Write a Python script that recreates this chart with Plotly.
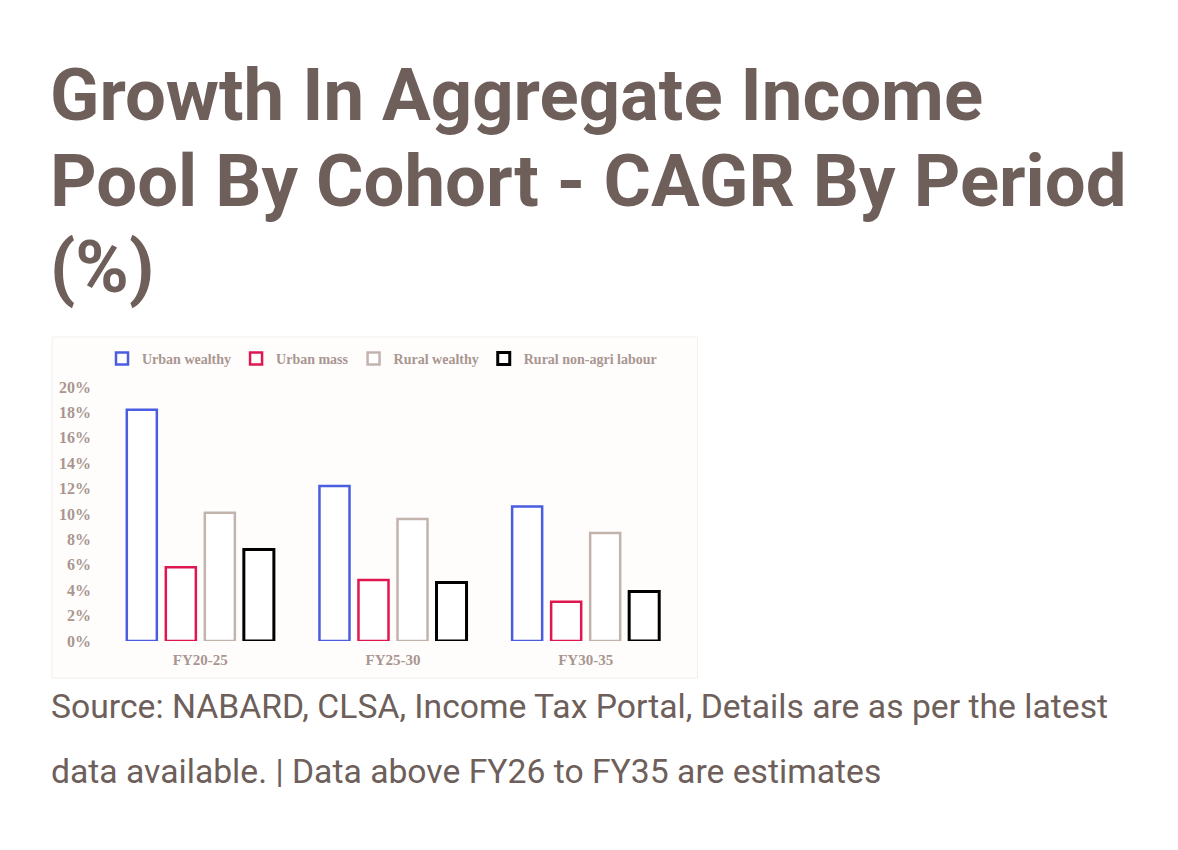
import plotly.graph_objects as go

periods = ["FY20-25", "FY25-30", "FY30-35"]

urban_wealthy = [18.2, 12.2, 10.6]
urban_mass = [5.8, 4.8, 3.1]
rural_wealthy = [10.1, 9.6, 8.5]
rural_non_agri = [7.2, 4.6, 3.9]

y_ticks = [0, 2, 4, 6, 8, 10, 12, 14, 16, 18, 20]
y_tick_text = ["%d%%" % v for v in y_ticks]

series = [
    {"name": "Urban wealthy", "values": urban_wealthy, "color": "#4a5ce0", "width": 2.5},
    {"name": "Urban mass", "values": urban_mass, "color": "#e0174f", "width": 2.5},
    {"name": "Rural wealthy", "values": rural_wealthy, "color": "#c2b4ad", "width": 2.5},
    {"name": "Rural non-agri labour", "values": rural_non_agri, "color": "#000000", "width": 3},
]

text_color = "#6e5f5b"
axis_color = "#a99690"

# page has an 8px body margin, so the figure is drawn 8px smaller and shifted
OFF = 8
W, H = 1178 - 2 * OFF, 850 - 2 * OFF
# plot area in screen pixels
L, R, T, B = 104, 682.5, 387, 641


def px(x):
    return (x - L) / (R - L)


def py(y):
    return (B - y) / (B - T)


fig = go.Figure()

for s in series:
    fig.add_trace(go.Bar(x=periods,
                         y=s["values"],
                         name=s["name"],
                         marker=dict(color="white",
                                     line=dict(color=s["color"], width=s["width"]))))

fig.update_layout(
    width=W,
    height=H,
    margin=dict(l=L - OFF, r=W - (R - OFF), t=T - OFF, b=H - (B - OFF), pad=0),
    paper_bgcolor="white",
    plot_bgcolor="rgba(0,0,0,0)",
    barmode="group",
    bargap=0.19,
    bargroupgap=0.23,
    showlegend=True,
    legend=dict(orientation="h",
                x=px(102), y=py(359),
                xanchor="left", yanchor="middle",
                font=dict(family="Liberation Serif", size=14, color=axis_color,
                          weight="bold"),
                itemwidth=30,
                bgcolor="rgba(0,0,0,0)"),
    font=dict(family="Liberation Serif", color=axis_color),
)

fig.update_yaxes(range=[0, 20],
                 tickvals=y_ticks,
                 ticktext=y_tick_text,
                 showgrid=False,
                 zeroline=False,
                 showline=False,
                 ticks="",
                 ticklabelstandoff=12,
                 tickfont=dict(family="Liberation Serif", size=16, color=axis_color,
                               weight="bold"))

fig.update_xaxes(showgrid=False,
                 showline=False,
                 ticks="",
                 ticklabelstandoff=8,
                 tickfont=dict(family="Liberation Serif", size=15, color=axis_color,
                               weight="bold"))

# faint box around the embedded chart
fig.add_shape(type="rect", xref="paper", yref="paper",
              x0=px(52), x1=px(698), y0=py(678), y1=py(337),
              fillcolor="#fefdfc", line=dict(color="#f3efed", width=1),
              layer="below")

title_lines = ["Growth In Aggregate Income",
               "Pool By Cohort - CAGR By Period",
               "(%)"]
title_y = [96, 181, 267]
for line, y in zip(title_lines, title_y):
    fig.add_annotation(text="<b>" + line + "</b>",
                       xref="paper", yref="paper",
                       x=px(48), y=py(y),
                       xanchor="left", yanchor="middle",
                       showarrow=False,
                       font=dict(family="Roboto", size=72.5, color=text_color))

source_lines = ["Source: NABARD, CLSA, Income Tax Portal, Details are as per the latest",
                "data available. | Data above FY26 to FY35 are estimates"]
source_y = [706, 771]
for line, y in zip(source_lines, source_y):
    fig.add_annotation(text=line,
                       xref="paper", yref="paper",
                       x=px(49), y=py(y),
                       xanchor="left", yanchor="middle",
                       showarrow=False,
                       font=dict(family="Roboto", size=33.7, color=text_color))

fig.write_html("out.html")
